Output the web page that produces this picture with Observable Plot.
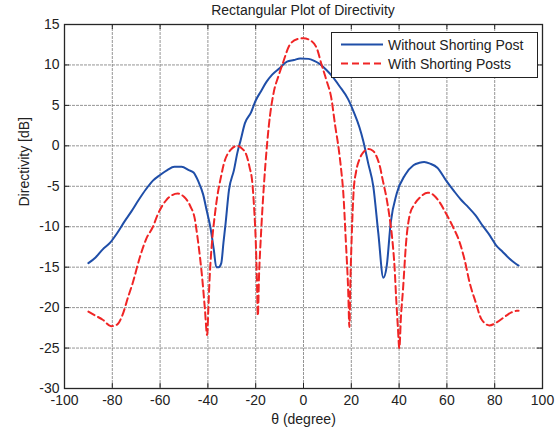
<!DOCTYPE html>
<html><head><meta charset="utf-8">
<script src="https://cdn.jsdelivr.net/npm/d3@7"></script>
<script src="https://cdn.jsdelivr.net/npm/@observablehq/plot@0.6"></script>
<style>
body{margin:0;background:#fff;font-family:"Liberation Sans",Arial,sans-serif;}
#wrap{position:relative;width:559px;height:431px;background:#fff;overflow:hidden;}
#title{position:absolute;left:64px;top:0;width:478px;height:20px;line-height:20px;font-size:14px;text-align:center;color:#222;}
#chart{position:absolute;left:0;top:20px;}
#chart svg{overflow:visible;}
#legend{position:absolute;left:331px;top:32px;width:205px;height:44px;border:1px solid #222;background:#fff;}
</style></head><body>
<div id="wrap">
<div id="title">Rectangular Plot of Directivity</div>
<div id="chart"></div>
<div id="legend"></div>
</div>
<script>
const xTicks = [-100,-80,-60,-40,-20,0,20,40,60,80,100];
const yTicks = [-30,-25,-20,-15,-10,-5,0,5,10,15];
const seriesNames = ["Without Shorting Post","With Shorting Posts"];
const seriesColors = ["#1f4ea8","#f02525"];

const thetaWithout = [-90,-87,-84,-81,-78,-75,-72,-69,-66,-63,-60,-57,-54,-51,-48,-46,-44,-42,-40.5,-39,-37.5,-36.5,-35.5,-34.4,-33.5,-32.6,-31.2,-29.1,-27.7,-26.3,-24.5,-22,-20,-17.9,-15.5,-13.1,-10,-6.9,-4,-1.4,2.1,4.5,6.9,9.5,11.7,15,18.6,21,23.4,25,27.1,29.2,31.3,33.4,34.8,36.5,39,42.5,46,48.5,50.5,53,56,59.7,63,66,69,72,75,78,80.6,83,86,88,90];
const dbWithout = [-14.5,-13.8,-12.8,-12.0,-10.8,-9.4,-8.1,-6.7,-5.4,-4.3,-3.6,-3.0,-2.6,-2.6,-3.0,-3.3,-4.4,-6.0,-8.0,-10.0,-12.9,-15.0,-15.0,-14.5,-12.0,-9.6,-5.5,-3.0,-0.9,0.7,2.8,4.1,5.6,6.7,7.9,8.8,9.6,10.4,10.6,10.8,10.75,10.5,10.1,9.4,8.7,7.4,5.8,4.2,2.3,0.6,-2.2,-5.0,-10.8,-16.3,-14.9,-9.5,-5.9,-3.6,-2.4,-2.1,-2.0,-2.2,-2.7,-4.3,-5.6,-6.7,-7.6,-8.6,-9.9,-11.1,-12.3,-13.0,-13.9,-14.4,-14.8];

const thetaWith = [-90,-87,-84,-80.5,-78,-75.6,-73.5,-71.4,-68.5,-65.8,-63,-61,-57.4,-55,-52.6,-50,-47.3,-45.5,-44.4,-43.3,-42.3,-41.3,-40.3,-39.8,-39.3,-38.2,-37.2,-36.1,-34.5,-33.3,-30.5,-27.7,-25.5,-24.2,-22.6,-21.4,-20.6,-20,-19.5,-19.1,-18.6,-17.9,-16.5,-15.3,-14.5,-12.4,-10.5,-8.9,-5.5,-2.5,0,2.5,5.5,7.6,9.5,11.7,13.2,14.7,15.7,16.6,17.7,18.7,19.2,19.6,20.2,21,22,23.5,25,27.2,29,30.4,32,33.2,34.7,36,37.2,38.1,38.8,39.5,40.1,40.8,41.6,43,44.4,46.5,49,52,54.5,57,59.7,62.5,65.3,67.5,69.5,72,74.4,77.8,81,84.8,87,89.2,90];
const dbWith = [-20.5,-21.0,-21.5,-22.3,-22.1,-20.8,-18.8,-16.9,-13.8,-11.5,-10.0,-8.5,-6.7,-6.1,-5.9,-6.3,-7.5,-9.0,-11.2,-13.8,-16.6,-20.0,-23.4,-20.0,-16.5,-11.6,-8.8,-6.3,-3.8,-2.2,-0.5,0,-0.4,-0.9,-2.6,-4.6,-8.0,-11.6,-16.5,-21.0,-16.0,-11.6,-4.6,0,2.5,6.7,8.6,10.0,12.6,13.2,13.3,13.1,12.1,10.0,8.2,5.8,2.6,-0.3,-2.8,-5.6,-11.7,-17.9,-22.4,-17.0,-11.0,-5.5,-3.2,-1.6,-0.8,-0.4,-0.6,-1.2,-2.6,-4.3,-6.4,-8.8,-11.7,-15.0,-19.0,-22.5,-25.0,-21.0,-17.9,-11.7,-8.6,-7.2,-6.3,-5.8,-6.1,-7.0,-8.4,-10.0,-11.9,-14.2,-16.9,-19.3,-21.4,-22.2,-21.8,-21.0,-20.6,-20.4,-20.4];

const without = thetaWithout.map((t,i)=>({theta:t, db:dbWithout[i]}));
const withPosts = thetaWith.map((t,i)=>({theta:t, db:dbWith[i]}));

const W=559, H=411, mL=64, mR=17, mT=4, mB=43;
const innerW = W-mL-mR, innerH = H-mT-mB;
const font = "Liberation Sans, Arial, sans-serif";
const gridStyle = {stroke:"#8a8a8a", strokeOpacity:0.9, strokeDasharray:"3,1"};

const chart = Plot.plot({
  width: W, height: H,
  marginLeft: mL, marginRight: mR, marginTop: mT, marginBottom: mB,
  style: {fontFamily: font, fontSize: "14px", color: "#222", background: "white", overflow: "visible"},
  x: {domain: [-100,100]},
  y: {domain: [-30,15]},
  marks: [
    Plot.gridX(xTicks, gridStyle),
    Plot.gridY(yTicks, gridStyle),
    Plot.tickX(xTicks, {x: d=>d, insetTop: innerH-5, stroke:"#222"}),
    Plot.tickX(xTicks, {x: d=>d, insetBottom: innerH-5, stroke:"#222"}),
    Plot.tickY(yTicks, {y: d=>d, insetRight: innerW-5, stroke:"#222"}),
    Plot.tickY(yTicks, {y: d=>d, insetLeft: innerW-5, stroke:"#222"}),
    Plot.axisX(xTicks, {tickSize:0, tickPadding:7, label:null, tickFormat: d=>String(d), fontSize:14}),
    Plot.axisY(yTicks, {tickSize:0, tickPadding:5, label:null, tickFormat: d=>String(d), fontSize:14}),
    Plot.line(without, {x:"theta", y:"db", stroke:seriesColors[0], strokeWidth:2, curve:"monotone-x"}),
    Plot.line(withPosts, {x:"theta", y:"db", stroke:seriesColors[1], strokeWidth:2, strokeDasharray:"7,4", curve:"monotone-x"}),
    Plot.frame({stroke:"#262626", strokeWidth:1.3}),
    Plot.text(["θ (degree)"], {text:d=>d, frameAnchor:"bottom", dy:35, fontSize:14, fill:"#222"}),
    Plot.text(["Directivity [dB]"], {text:d=>d, frameAnchor:"left", dx:-40, rotate:-90, fontSize:14, fill:"#222"})
  ]
});
document.getElementById("chart").appendChild(chart);

// legend
const leg = d3.select("#legend").append("svg").attr("width",205).attr("height",44);
seriesNames.forEach((name,i)=>{
  const y = 11.5 + i*19;
  leg.append("line").attr("x1",9).attr("x2",51).attr("y1",y).attr("y2",y)
    .attr("stroke",seriesColors[i]).attr("stroke-width",2)
    .attr("stroke-dasharray", i===1 ? "7,4" : null);
  leg.append("text").attr("x",56).attr("y",y+5).text(name)
    .attr("font-family",font).attr("font-size",14).attr("fill","#222");
});
</script>
</body></html>
